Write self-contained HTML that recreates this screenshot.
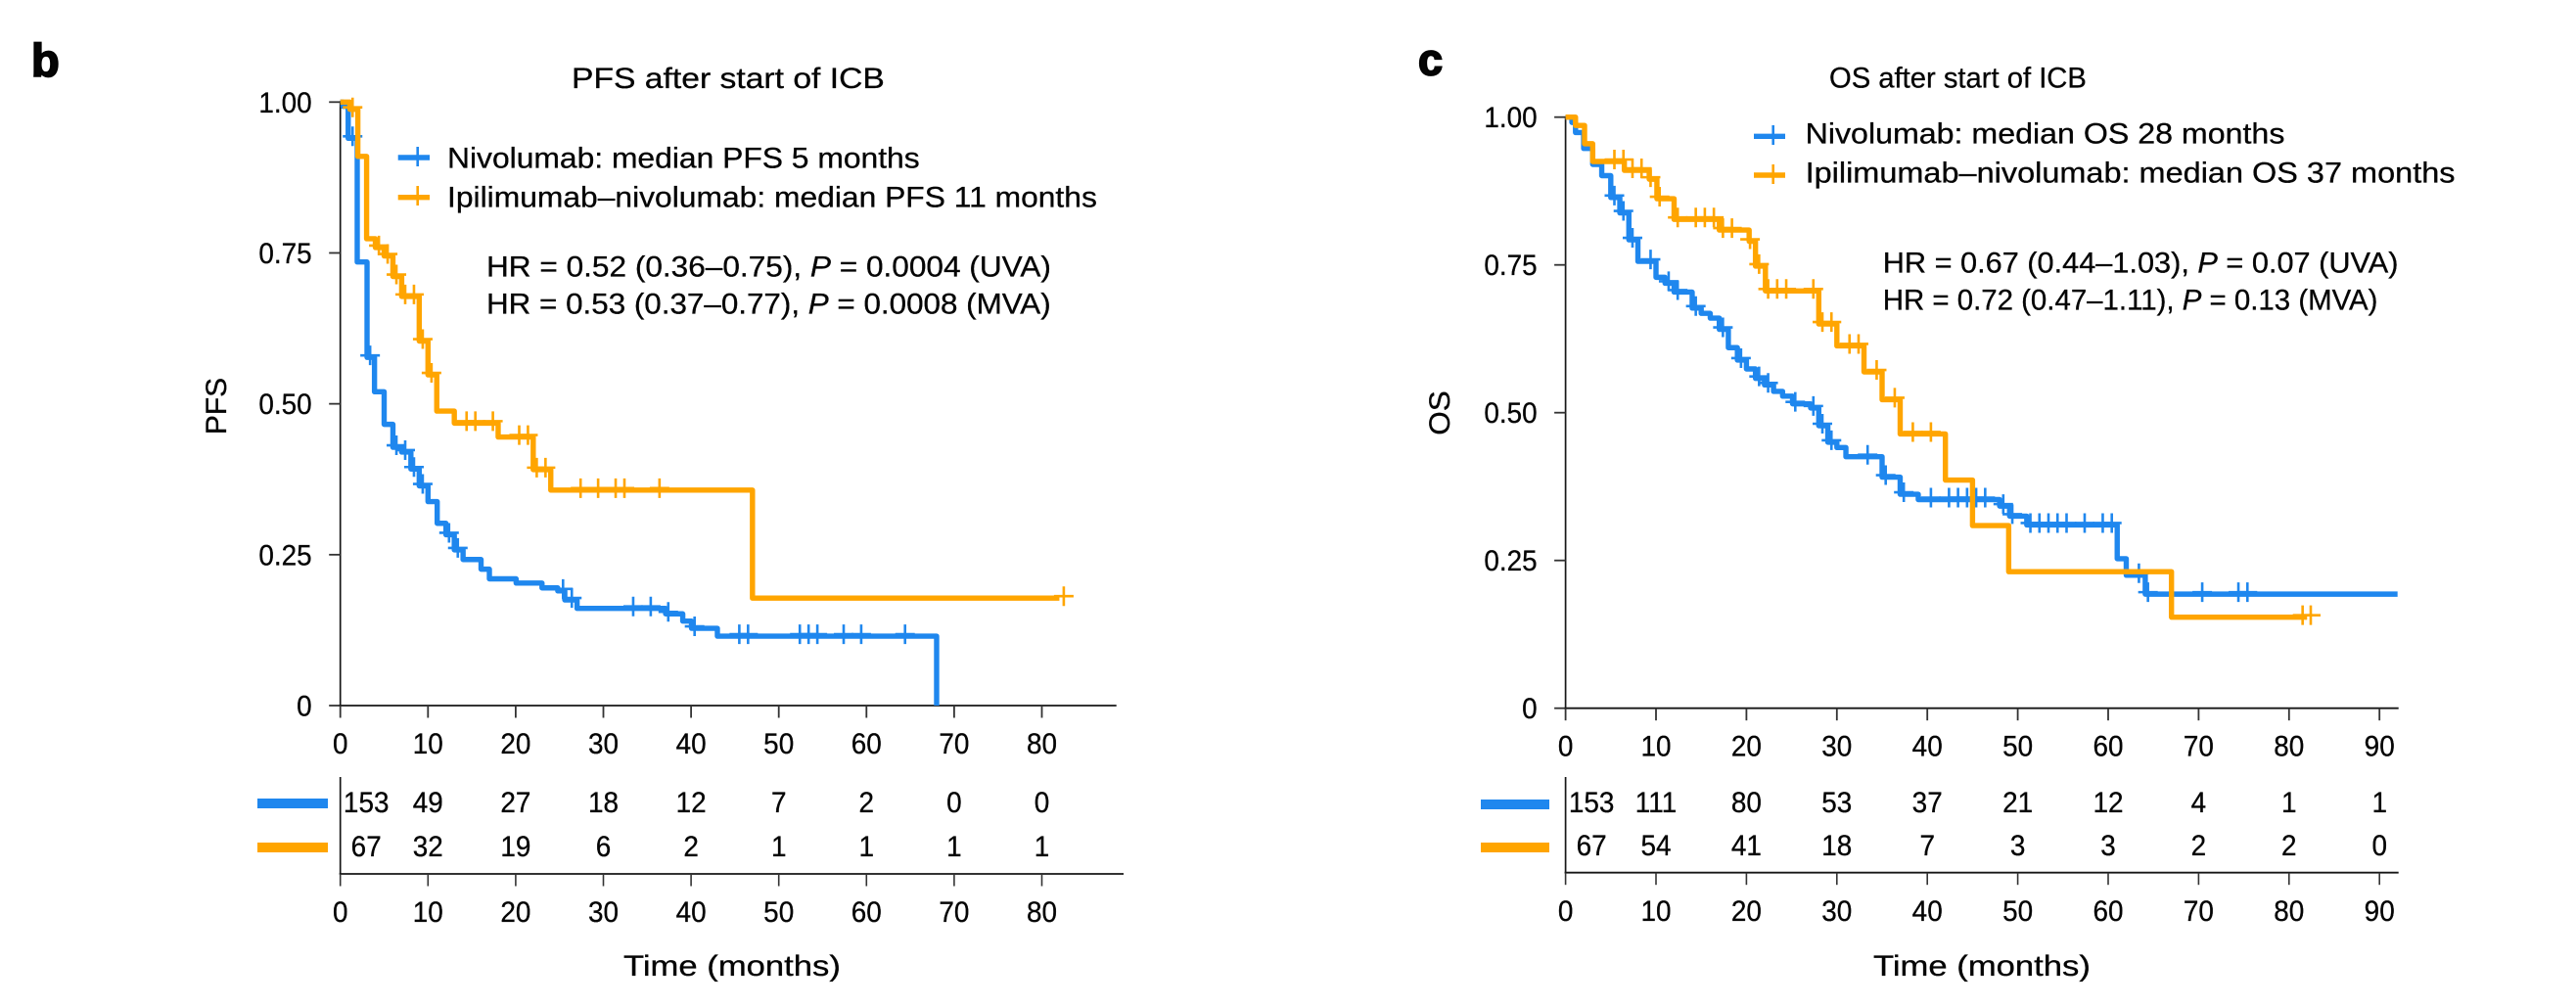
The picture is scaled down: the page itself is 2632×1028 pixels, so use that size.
<!DOCTYPE html>
<html lang="en">
<head>
<meta charset="utf-8">
<title>PFS and OS after start of ICB</title>
<style>
html,body{margin:0;padding:0;background:#fff;}
svg{display:block;}
text{font-family:"Liberation Sans",sans-serif;font-size:30px;fill:#050505;stroke:#050505;stroke-width:0.3px;}
.panel-letter{font-weight:700;stroke:#000;stroke-width:1.8px;}
</style>
</head>
<body>
<svg id="figure" xmlns="http://www.w3.org/2000/svg" width="2632" height="1028" viewBox="0 0 2632 1028">
  <rect x="0" y="0" width="2632" height="1028" fill="#ffffff"/>

  <text class="panel-letter" x="32" y="78" style="font-size:47px">b</text>
  <text class="panel-letter" x="1449" y="76.5" style="font-size:45px">c</text>

  <g id="panel-b"></g>
  <g id="panel-c"></g>

  <text class="fit" data-x="584" data-y="90" data-w="320">PFS after start of ICB</text>
  <text class="fit" data-x="1869" data-y="89.5" data-w="263">OS after start of ICB</text>

  <g>
    <g>
      <line x1="406.7" x2="439" y1="161" y2="161" stroke="#1f87ee" stroke-width="5.4"/>
      <line x1="426.7" x2="426.7" y1="150" y2="170" stroke="#1f87ee" stroke-width="2.6"/>
      <text class="fit" data-x="457" data-y="171.7" data-w="483">Nivolumab: median PFS 5 months</text>
    </g>
    <g>
      <line x1="406.7" x2="439" y1="201.7" y2="201.7" stroke="#ffa500" stroke-width="5.4"/>
      <line x1="426.7" x2="426.7" y1="190" y2="210" stroke="#ffa500" stroke-width="2.6"/>
      <text class="fit" data-x="457" data-y="211.7" data-w="664">Ipilimumab–nivolumab: median PFS 11 months</text>
    </g>
  </g>

  <text class="fit" data-x="497" data-y="282.3" data-w="577">HR = 0.52 (0.36–0.75), <tspan font-style="italic">P</tspan> = 0.0004 (UVA)</text>
  <text class="fit" data-x="497" data-y="320.7" data-w="577">HR = 0.53 (0.37–0.77), <tspan font-style="italic">P</tspan> = 0.0008 (MVA)</text>

  <g>
    <g>
      <line x1="1792" x2="1824" y1="139.3" y2="139.3" stroke="#1f87ee" stroke-width="5.4"/>
      <line x1="1811.7" x2="1811.7" y1="128" y2="148" stroke="#1f87ee" stroke-width="2.6"/>
      <text class="fit" data-x="1844.6" data-y="146.7" data-w="490">Nivolumab: median OS 28 months</text>
    </g>
    <g>
      <line x1="1792" x2="1824" y1="179" y2="179" stroke="#ffa500" stroke-width="5.4"/>
      <line x1="1811.7" x2="1811.7" y1="168" y2="188" stroke="#ffa500" stroke-width="2.6"/>
      <text class="fit" data-x="1844.6" data-y="186.7" data-w="664">Ipilimumab–nivolumab: median OS 37 months</text>
    </g>
  </g>

  <text class="fit" data-x="1923.7" data-y="278.3" data-w="527">HR = 0.67 (0.44–1.03), <tspan font-style="italic">P</tspan> = 0.07 (UVA)</text>
  <text class="fit" data-x="1923.7" data-y="316.7" data-w="506">HR = 0.72 (0.47–1.11), <tspan font-style="italic">P</tspan> = 0.13 (MVA)</text>

  <text class="fit" data-x="637" data-y="997" data-w="222">Time (months)</text>
  <text class="fit" data-x="1914" data-y="997" data-w="222">Time (months)</text>

  <text text-anchor="middle" transform="translate(231,415) rotate(-90)">PFS</text>
  <text text-anchor="middle" transform="translate(1481,422) rotate(-90) scale(1.05,1)">OS</text>

  <rect x="263" y="816" width="72" height="10" fill="#1f87ee"/>
  <rect x="263" y="861" width="72" height="10" fill="#ffa500"/>
  <rect x="1513" y="817" width="70" height="10" fill="#1f87ee"/>
  <rect x="1513" y="861" width="70" height="10" fill="#ffa500"/>
</svg>

<script>
// ---------- Shared axis labels ----------
var survivalTicks = [1, 0.75, 0.5, 0.25, 0];
var survivalTickLabels = ['1.00', '0.75', '0.50', '0.25', '0'];

// ---------- Panel b: progression-free survival ----------
var pfsMonthTicks = [0, 10, 20, 30, 40, 50, 60, 70, 80];
var pfsNivoMonths = [0, 0.3, 0.9, 1.93, 3.05, 3.9, 5, 6, 7, 8.05, 9, 10, 11.05, 12.05, 13, 14, 16.05, 17, 20.05, 23, 24.8, 25.6, 27, 37.1, 39.05, 40.05, 43, 68];
var pfsNivoSurvival = [1, 0.993, 0.94, 0.735, 0.577, 0.52, 0.466, 0.428, 0.42, 0.392, 0.364, 0.338, 0.302, 0.283, 0.258, 0.242, 0.226, 0.21, 0.203, 0.195, 0.19, 0.175, 0.161, 0.152, 0.14, 0.128, 0.115, 0];
var pfsNivoCensored = [1.4, 3.4, 6.4, 7.4, 8.4, 9.4, 12.4, 13.4, 25.4, 26.4, 33.4, 35.4, 37.4, 40.4, 45.5, 46.5, 52.4, 53.4, 54.4, 57.4, 59.4, 64.4];
var pfsNivoLastMonth = [68];
var pfsComboMonths = [0, 1.1, 2, 3, 4, 5, 6, 7, 9, 10, 11, 13, 18, 22, 24, 47];
var pfsComboSurvival = [1, 0.988, 0.91, 0.7735, 0.759, 0.745, 0.711, 0.678, 0.604, 0.548, 0.488, 0.468, 0.445, 0.391, 0.357, 0.178];
var pfsComboCensored = [1.4, 4.4, 5.4, 6.4, 7.4, 8.4, 9.4, 10.4, 14.4, 15.4, 17.4, 20.4, 21.4, 22.4, 23.4, 27.4, 29.4, 31.4, 32.4, 36.4, 82.5];
var pfsComboLastMonth = [82];
var pfsNivoAtRisk = [153, 49, 27, 18, 12, 7, 2, 0, 0];
var pfsComboAtRisk = [67, 32, 19, 6, 2, 1, 1, 1, 1];

// ---------- Panel c: overall survival ----------
var osMonthTicks = [0, 10, 20, 30, 40, 50, 60, 70, 80, 90];
var osNivoMonths = [0, 0.7, 1.1, 2, 3, 4, 5, 6, 7, 8, 10, 11, 12, 14, 15, 16, 17, 18, 19, 20, 21, 22, 23, 24, 25.1, 27.1, 28, 29, 30, 31, 35, 37, 39, 48, 49.1, 51, 61, 62, 64.1];
var osNivoSurvival = [1, 0.991, 0.974, 0.947, 0.92, 0.901, 0.864, 0.838, 0.7925, 0.756, 0.729, 0.719, 0.704, 0.677, 0.668, 0.66, 0.641, 0.61, 0.589, 0.574, 0.558, 0.547, 0.536, 0.528, 0.515, 0.508, 0.478, 0.45, 0.441, 0.4255, 0.391, 0.362, 0.353, 0.342, 0.325, 0.31, 0.253, 0.225, 0.193];
var osNivoCensored = [5.4, 6.4, 7.4, 9.4, 11.4, 12.4, 14.4, 17.4, 19.4, 21.4, 22.4, 25.4, 27.4, 28.4, 29.4, 33.4, 35.4, 37.4, 40.4, 42.4, 43.4, 44.4, 45.4, 46.4, 48.4, 49.4, 51.4, 52.4, 53.4, 54.4, 55.4, 57.4, 59.4, 60.4, 63.4, 64.4, 70.4, 74.4, 75.4];
var osNivoLastMonth = [92];
var osComboMonths = [0, 1.1, 2.1, 3, 6.5, 9.25, 10.1, 12, 17, 20.3, 21, 22.1, 28, 30, 33, 35, 37, 42, 45, 49, 67];
var osComboSurvival = [1, 0.986, 0.955, 0.925, 0.91, 0.895, 0.862, 0.827, 0.809, 0.79, 0.748, 0.706, 0.65, 0.613, 0.569, 0.522, 0.464, 0.386, 0.309, 0.231, 0.154];
var osComboCensored = [5.4, 6.4, 7.4, 8.4, 9.4, 10.4, 12.4, 14.4, 15.4, 16.4, 17.4, 18.4, 20.4, 21.4, 22.4, 23.4, 24.4, 27.4, 28.4, 29.4, 31.4, 32.4, 34.4, 36.4, 38.4, 40.4, 81.5, 82.4];
var osComboLastMonth = [82];
var osNivoAtRisk = [153, 111, 80, 53, 37, 21, 12, 4, 1, 1];
var osComboAtRisk = [67, 54, 41, 18, 7, 3, 3, 2, 2, 0];

var SVG_NS = 'http://www.w3.org/2000/svg';
var BLUE = '#1f87ee';
var ORANGE = '#ffa500';

function makeLine(parent, x1, y1, x2, y2, color, width) {
  var el = document.createElementNS(SVG_NS, 'line');
  el.setAttribute('x1', x1);
  el.setAttribute('y1', y1);
  el.setAttribute('x2', x2);
  el.setAttribute('y2', y2);
  el.setAttribute('stroke', color);
  el.setAttribute('stroke-width', width);
  parent.appendChild(el);
  return el;
}

function makeText(parent, x, y, str, anchor) {
  var el = document.createElementNS(SVG_NS, 'text');
  el.setAttribute('transform', 'translate(' + x + ',' + y + ') scale(0.93,1)');
  el.setAttribute('text-anchor', anchor);
  el.textContent = str;
  parent.appendChild(el);
  return el;
}

function stepValue(months, survival, t) {
  var v = survival[0];
  for (var i = 0; i < months.length; i++) {
    if (months[i] <= t) v = survival[i];
  }
  return v;
}

function drawSeries(group, prefix, months, survival, censored, lastMonth, color, xScale, yScale) {
  var d = 'M' + xScale(months[0]) + ' ' + yScale(survival[0]);
  for (var i = 1; i < months.length; i++) {
    d += 'H' + xScale(months[i]) + 'V' + yScale(survival[i]);
  }
  d += 'H' + xScale(lastMonth[0]);
  var path = document.createElementNS(SVG_NS, 'path');
  path.setAttribute('d', d);
  path.setAttribute('fill', 'none');
  path.setAttribute('stroke', color);
  path.setAttribute('stroke-width', '5.4');
  path.setAttribute('stroke-linejoin', 'round');
  
  
  group.appendChild(path);
  censored.forEach(function (t) {
    var cx = xScale(t);
    var cy = yScale(stepValue(months, survival, t)) - 2;
    var mark = document.createElementNS(SVG_NS, 'path');
    mark.setAttribute('d', 'M' + (cx - 10) + ' ' + cy + 'H' + (cx + 10) + 'M' + cx + ' ' + (cy - 10) + 'V' + (cy + 10));
    mark.setAttribute('fill', 'none');
    mark.setAttribute('stroke', color);
    mark.setAttribute('stroke-width', '2.6');
    
    
    group.appendChild(mark);
  });
}

function drawPanel(p) {
  var group = document.getElementById(p.id);
  var xScale = function (t) { return p.x0 + p.pxPerMonth * t; };
  var yScale = function (s) { return p.yZero - p.pxPerUnit * s; };

  // y axis
  var yAxis = makeLine(group, p.x0, yScale(1) - 1, p.x0, p.yZero + 1, '#161616', 1.7);
  
  
  survivalTicks.forEach(function (s, i) {
    var tick = makeLine(group, p.x0 - 11.5, yScale(s), p.x0, yScale(s), '#333333', 1.8);
    
    
    var label = makeText(group, p.x0 - 29, yScale(s) + 10.5, survivalTickLabels[i], 'end');
    
    
  });

  // x axis
  var xAxis = makeLine(group, p.x0 - 1, p.yZero, p.axisEnd, p.yZero, '#161616', 1.8);
  
  
  p.ticks.forEach(function (m) {
    var tick = makeLine(group, xScale(m), p.yZero, xScale(m), p.yZero + 12.5, '#333333', 1.8);
    
    
    var label = makeText(group, xScale(m), p.xLabelY, String(m), 'middle');
    
    
  });

  // curves
  drawSeries(group, p.key + '-nivolumab', p.nivoMonths, p.nivoSurvival, p.nivoCensored, p.nivoLast, BLUE, xScale, yScale);
  drawSeries(group, p.key + '-combination', p.comboMonths, p.comboSurvival, p.comboCensored, p.comboLast, ORANGE, xScale, yScale);

  // at-risk table
  var tableY = makeLine(group, p.x0, 794, p.x0, p.tableAxisY, '#161616', 1.7);
  
  
  var tableX = makeLine(group, p.x0 - 1, p.tableAxisY, p.tableEnd, p.tableAxisY, '#161616', 1.8);
  
  
  p.ticks.forEach(function (m, i) {
    var tick = makeLine(group, xScale(m), p.tableAxisY, xScale(m), p.tableAxisY + 12.5, '#333333', 1.6);
    
    
    var label = makeText(group, xScale(m), p.tableLabelY, String(m), 'middle');
    
    
    var cellX = i === 0 ? p.x0 + 26.5 : xScale(m);
    var nivo = makeText(group, cellX, p.rowOneY, String(p.nivoAtRisk[i]), 'middle');
    
    
    var combo = makeText(group, cellX, p.rowTwoY, String(p.comboAtRisk[i]), 'middle');
    
    
  });
}

drawPanel({
  id: 'panel-b', key: 'pfs', x0: 347.7, pxPerMonth: 8.96, yZero: 721, pxPerUnit: 616.7,
  axisEnd: 1140.7, xLabelY: 770, tableAxisY: 893, tableEnd: 1148, tableLabelY: 942, rowOneY: 830, rowTwoY: 875,
  ticks: pfsMonthTicks,
  nivoMonths: pfsNivoMonths, nivoSurvival: pfsNivoSurvival, nivoCensored: pfsNivoCensored, nivoLast: pfsNivoLastMonth,
  comboMonths: pfsComboMonths, comboSurvival: pfsComboSurvival, comboCensored: pfsComboCensored, comboLast: pfsComboLastMonth,
  nivoAtRisk: pfsNivoAtRisk, comboAtRisk: pfsComboAtRisk
});

drawPanel({
  id: 'panel-c', key: 'os', x0: 1599.6, pxPerMonth: 9.24, yZero: 723.7, pxPerUnit: 604,
  axisEnd: 2450.7, xLabelY: 772.5, tableAxisY: 891.7, tableEnd: 2450.7, tableLabelY: 941, rowOneY: 830, rowTwoY: 874,
  ticks: osMonthTicks,
  nivoMonths: osNivoMonths, nivoSurvival: osNivoSurvival, nivoCensored: osNivoCensored, nivoLast: osNivoLastMonth,
  comboMonths: osComboMonths, comboSurvival: osComboSurvival, comboCensored: osComboCensored, comboLast: osComboLastMonth,
  nivoAtRisk: osNivoAtRisk, comboAtRisk: osComboAtRisk
});

// Stretch long labels horizontally to the proportions of the original typeface.
Array.prototype.forEach.call(document.querySelectorAll('text.fit'), function (el) {
  var w = parseFloat(el.getAttribute('data-w'));
  var sx = w / el.getComputedTextLength();
  el.setAttribute('transform', 'translate(' + el.getAttribute('data-x') + ',' + el.getAttribute('data-y') + ') scale(' + sx + ',1)');
});
</script>
</body>
</html>
